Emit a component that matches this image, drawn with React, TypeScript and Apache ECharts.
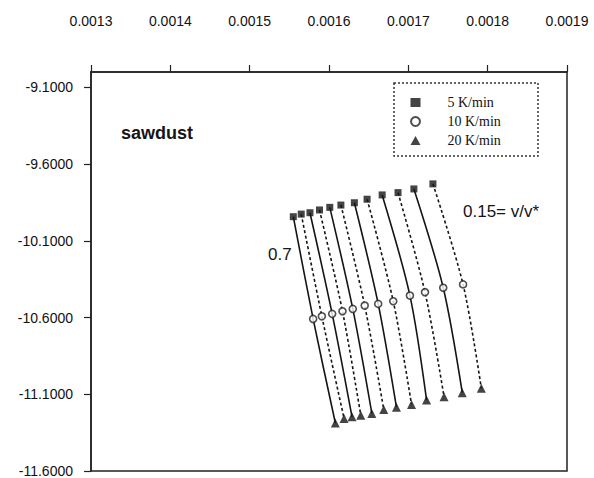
import React, { useEffect, useRef } from "react";
import * as echarts from "echarts";

// conversion levels, left (0.7) to right (0.15)
const conversions = [0.7, 0.65, 0.6, 0.55, 0.5, 0.45, 0.4, 0.35, 0.3, 0.25, 0.2, 0.15];

// 5 K/min (squares)
const x5 = [0.001555, 0.001565, 0.001576, 0.001588, 0.001601, 0.001615, 0.001632, 0.001648, 0.001667, 0.001687, 0.001707, 0.001731];
const y5 = [-9.943, -9.926, -9.917, -9.899, -9.882, -9.867, -9.852, -9.829, -9.801, -9.786, -9.762, -9.729];

// 10 K/min (circles)
const x10 = [0.00158, 0.001591, 0.001604, 0.001617, 0.00163, 0.001645, 0.001662, 0.001681, 0.001702, 0.001721, 0.001744, 0.001769];
const y10 = [-10.609, -10.592, -10.576, -10.559, -10.544, -10.522, -10.511, -10.494, -10.457, -10.435, -10.406, -10.384];

// 20 K/min (triangles)
const x20 = [0.001608, 0.001619, 0.001629, 0.00164, 0.001654, 0.001669, 0.001685, 0.001704, 0.001723, 0.001745, 0.001768, 0.001792];
const y20 = [-11.287, -11.258, -11.247, -11.236, -11.225, -11.199, -11.184, -11.166, -11.138, -11.116, -11.09, -11.061];

const xTicks = [0.0013, 0.0014, 0.0015, 0.0016, 0.0017, 0.0018, 0.0019];
const yTicks = [-11.6, -11.1, -10.6, -10.1, -9.6, -9.1];

const rateNames = ["5 K/min", "10 K/min", "20 K/min"];

export default function App() {
  const ref = useRef<HTMLDivElement>(null);
  useEffect(() => {
    if (!ref.current) return;
    const chart = echarts.init(ref.current, null, { renderer: "svg" });
    const ink = "#151515";
    const sans = "Liberation Sans, Arial, sans-serif";
    const serif = "Liberation Serif, Times New Roman, serif";

    const lineSeries = conversions.map((c, i) => ({
      type: "line",
      name: "X=" + c,
      data: [
        [x5[i], y5[i]],
        [x10[i], y10[i]],
        [x20[i], y20[i]],
      ],
      showSymbol: false,
      symbol: "none",
      smooth: 0.3,
      silent: true,
      lineStyle: { color: ink, width: 1.6, type: i % 2 === 0 ? "solid" : [3, 2.5] },
      z: 2,
    }));

    const markerSeries = [
      {
        type: "scatter",
        name: rateNames[0],
        symbol: "rect",
        symbolSize: 7,
        itemStyle: { color: ink },
        data: x5.map((x, i) => [x, y5[i]]),
        z: 3,
      },
      {
        type: "scatter",
        name: rateNames[1],
        symbol: "circle",
        symbolSize: 7,
        itemStyle: { color: "#fff", borderColor: "#222", borderWidth: 1.6 },
        data: x10.map((x, i) => [x, y10[i]]),
        z: 3,
      },
      {
        type: "scatter",
        name: rateNames[2],
        symbol: "triangle",
        symbolSize: 9,
        itemStyle: { color: ink },
        data: x20.map((x, i) => [x, y20[i]]),
        z: 3,
      },
    ];

    chart.setOption({
      animation: false,
      backgroundColor: "#fff",
      grid: {
        left: 91,
        right: 27,
        top: 72,
        bottom: 7,
        show: true,
        borderColor: "#222",
        borderWidth: 1.5,
        containLabel: false,
      },
      xAxis: {
        type: "value",
        position: "top",
        min: 0.0013,
        max: 0.0019,
        splitLine: { show: false },
        axisLine: { show: true, lineStyle: { color: "#222", width: 1.5 } },
        axisTick: { show: true, length: 7, customValues: xTicks, lineStyle: { color: "#222", width: 1.2 } },
        axisLabel: {
          customValues: xTicks,
          margin: 44,
          color: "#111",
          fontFamily: sans,
          fontSize: 14,
          formatter: (v: number) => v.toFixed(4),
        },
      },
      yAxis: {
        type: "value",
        min: -11.6,
        max: -9.0,
        splitLine: { show: false },
        axisLine: { show: true, lineStyle: { color: "#222", width: 1.5 } },
        axisTick: { show: true, length: 7, customValues: yTicks, lineStyle: { color: "#222", width: 1.2 } },
        axisLabel: {
          customValues: yTicks,
          margin: 18,
          color: "#111",
          fontFamily: sans,
          fontSize: 14,
          formatter: (v: number) => v.toFixed(4),
        },
      },
      legend: {
        data: rateNames,
        orient: "vertical",
        left: 410,
        top: 95,
        padding: 0,
        itemWidth: 10,
        itemHeight: 9,
        itemGap: 4,
        textStyle: {
          fontFamily: serif,
          fontSize: 14,
          color: "#111",
          lineHeight: 15,
          padding: [0, 0, 0, 22],
        },
        selectedMode: false,
      },
      graphic: [
        {
          type: "rect",
          shape: { x: 394, y: 83, width: 144, height: 73 },
          style: { fill: "none", stroke: "#333", lineWidth: 1.5, lineDash: [2, 2] },
          z: 10,
        },
        {
          type: "text",
          x: 121,
          y: 133,
          style: { text: "sawdust", font: "bold 18px " + sans, fill: ink, verticalAlign: "middle" },
        },
        {
          type: "text",
          x: 268,
          y: 254,
          style: { text: "0.7", font: "17px " + sans, fill: ink, verticalAlign: "middle" },
        },
        {
          type: "text",
          x: 463,
          y: 211,
          style: { text: "0.15= v/v*", font: "17px " + sans, fill: ink, verticalAlign: "middle" },
        },
      ],
      series: [...lineSeries, ...markerSeries],
    });
    return () => chart.dispose();
  }, []);
  return (
    <div
      ref={ref}
      style={{ position: "fixed", left: 0, top: 0, width: 594, height: 478, background: "#fff" }}
    />
  );
}
